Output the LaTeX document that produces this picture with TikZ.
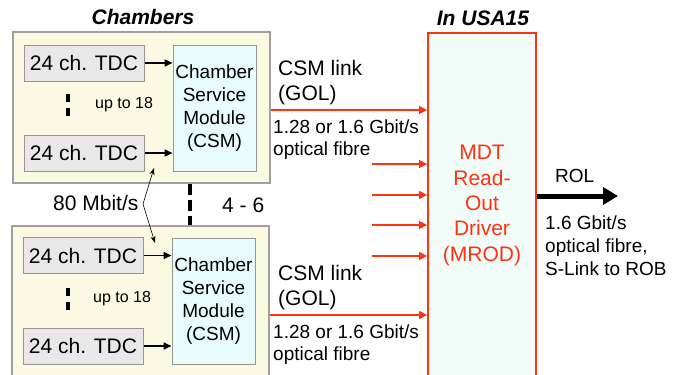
\documentclass[tikz,border=0pt]{standalone}
\usepackage{fontspec}
\setmainfont{Liberation Sans}
\usetikzlibrary{arrows.meta}
\definecolor{chamberfill}{RGB}{250,250,226}
\definecolor{chamberline}{RGB}{160,160,160}
\definecolor{tdcfill}{RGB}{232,232,232}
\definecolor{tdcline}{RGB}{150,150,150}
\definecolor{csmfill}{RGB}{232,252,252}
\definecolor{mrodfill}{RGB}{242,252,248}
\definecolor{mrodred}{RGB}{255,51,17}
\begin{document}
\begin{tikzpicture}[x=1pt,y=-1pt,
  chamber/.style={draw=chamberline, fill=chamberfill, line width=1.2pt,
    minimum width=257pt, minimum height=151pt, inner sep=0pt},
  tdc/.style={draw=tdcline, fill=tdcfill, line width=1pt,
    minimum width=120pt, minimum height=36pt, inner sep=0pt,
    font=\fontsize{21}{25}\selectfont},
  csm/.style={draw=tdcline, fill=csmfill, line width=1pt,
    minimum width=83pt, minimum height=126pt, inner sep=0pt, align=center,
    font=\fontsize{19}{23}\selectfont},
  mrod/.style={draw=mrodred, fill=mrodfill, line width=1.8pt,
    minimum width=108pt, minimum height=345pt, inner sep=0pt, align=center,
    text=mrodred, font=\fontsize{21}{25.3}\selectfont},
  title/.style={font=\fontsize{21}{25}\selectfont\bfseries\itshape, inner sep=0pt, anchor=base},
  big/.style={font=\fontsize{21}{25}\selectfont, inner sep=0pt, anchor=base west},
  mid/.style={font=\fontsize{19}{23}\selectfont, inner sep=0pt, anchor=base west},
  small/.style={font=\fontsize{16}{19}\selectfont, inner sep=0pt, anchor=base west},
  tdcarrow/.style={line width=1.6pt, -{Triangle[length=8pt,width=7pt]}},
  fibre/.style={draw=mrodred, line width=1.4pt, -{Triangle[length=8pt,width=8pt]}},
  thinarrow/.style={line width=0.6pt, -{Stealth[length=7pt,width=5pt]}},
  rolarrow/.style={line width=5pt, -{Triangle[length=15pt,width=17pt]}},
  dotline/.style={line width=3.5pt, dash pattern=on 8pt off 6pt},
  linkline/.style={line width=3.5pt, dash pattern=on 11pt off 5pt}]
\useasboundingbox (0,0) rectangle (678,375);
\clip (0,0) rectangle (678,375);

% chamber frames
\node[chamber] (ch1) at (141.5,107.5) {};
\node[chamber, minimum height=180pt] (ch2) at (140.5,316) {};

% upper chamber
\node[tdc] (tdc1a) at (84,63) {24 ch. TDC};
\node[tdc] (tdc1b) at (84,153) {24 ch. TDC};
\node[csm] (csm1) at (214.5,108) {Chamber\\Service\\Module\\(CSM)};
\draw[tdcarrow] (tdc1a.east) -- (tdc1a.east -| csm1.west);
\draw[tdcarrow] (tdc1b.east) -- (tdc1b.east -| csm1.west);
\coordinate (d1a) at (68,94);
\coordinate (d1b) at (68,117);
\draw[dotline] (d1a) -- (d1b);
\node[small] (up1) at (95,108) {up to 18};

% lower chamber
\node[tdc] (tdc2a) at (83,255.5) {24 ch. TDC};
\node[tdc] (tdc2b) at (83,346) {24 ch. TDC};
\node[csm] (csm2) at (213.5,301) {Chamber\\Service\\Module\\(CSM)};
\draw[tdcarrow] (tdc2a.east) -- (tdc2a.east -| csm2.west);
\draw[tdcarrow] (tdc2b.east) -- (tdc2b.east -| csm2.west);
\coordinate (d2a) at (68,288);
\coordinate (d2b) at (68,311);
\draw[dotline] (d2a) -- (d2b);
\node[small] (up2) at (93,302) {up to 18};

% chambers per MROD
\coordinate (lk) at (190,0);
\draw[linkline] (ch1.south -| lk) -- (ch2.north -| lk);
\node[big] (n46) at (222,212) {4 - 6};

% TDC link speed
\node[big] (mbit) at (53,210) {80 Mbit/s};
\coordinate (mb) at (143,204);
\coordinate (mbup) at (154,168);
\coordinate (mbdn) at (155,243);
\draw[thinarrow] (mb) -- (mbup);
\draw[thinarrow] (mb) -- (mbdn);

% titles
\node[title] (tch) at (143,24) {Chambers};
\node[title] (tusa) at (483,25) {In USA15};

% MROD
\node[mrod] (mrod) at (482,205.5) {MDT\\Read-\\Out\\Driver\\(MROD)};

% CSM links
\coordinate (l1) at (0,110);
\coordinate (l2) at (0,315);
\draw[fibre] (ch1.east |- l1) -- (mrod.west |- l1);
\draw[fibre] (ch2.east |- l2) -- (mrod.west |- l2);
\foreach \y [count=\i] in {164,195,225,256} {
  \coordinate (f\i) at (372,\y);
  \draw[fibre] (f\i) -- (f\i -| mrod.west);
}
\node[big] (cl1) at (278,75) {CSM link};
\node[big] (gol1) at (278,100) {(GOL)};
\node[mid] (sp1) at (273,133) {1.28 or 1.6 Gbit/s};
\node[mid] (of1) at (273,155) {optical fibre};
\node[big] (cl2) at (278,280) {CSM link};
\node[big] (gol2) at (278,305) {(GOL)};
\node[mid] (sp2) at (273,338) {1.28 or 1.6 Gbit/s};
\node[mid] (of2) at (273,360) {optical fibre};

% read-out link
\coordinate (rolend) at (618,196);
\draw[rolarrow] (mrod.east |- rolend) -- (rolend);
\node[mid] (rol) at (555,182) {ROL};
\node[mid] (r1) at (545,229) {1.6 Gbit/s};
\node[mid] (r2) at (545,252) {optical fibre,};
\node[mid] (r3) at (545,275) {S-Link to ROB};
\end{tikzpicture}
\end{document}
